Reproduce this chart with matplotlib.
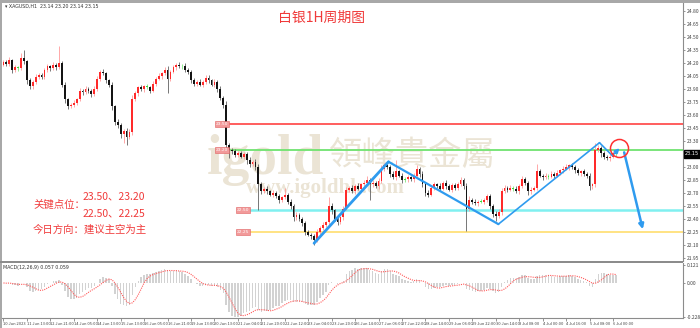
import numpy as np
import pandas as pd
import matplotlib
matplotlib.use("Agg")
import matplotlib.pyplot as plt
from matplotlib.patches import Rectangle
import matplotlib.transforms as mtransforms

plt.rcParams['font.family'] = ['Noto Sans CJK SC', 'DejaVu Sans']

# XAGUSD H1 chart (2h resolution)
first_open = 24.18
closes = [
    24.21, 24.19, 24.23, 24.12, 24.15, 24.14, 24.26, 24.22, 24.00, 23.93,
    23.98, 24.04, 24.06, 24.04, 24.12, 24.16, 24.14, 24.18, 24.15, 24.20,
    23.95, 23.78, 23.70, 23.72, 23.74, 23.78, 23.88, 23.86, 23.90, 23.88,
    23.84, 23.90, 24.02, 24.10, 24.08, 24.00, 23.95, 23.70, 23.52, 23.48,
    23.38, 23.42, 23.35, 23.40, 23.78, 23.85, 23.92, 23.90, 23.93, 23.92,
    23.88, 23.96, 24.02, 24.05, 24.08, 24.12, 24.02, 24.10, 24.15, 24.18,
    24.16, 24.17, 24.12, 24.10, 24.00, 23.96, 23.98, 23.95, 23.98, 24.03,
    24.00, 23.95, 23.98, 23.90, 23.80, 23.72, 23.25, 23.20, 23.18, 23.14,
    23.16, 23.12, 23.15, 23.08, 23.03, 23.06, 23.00, 22.80, 22.72, 22.75,
    22.72, 22.68, 22.70, 22.66, 22.62, 22.65, 22.68, 22.60, 22.55, 22.42,
    22.45, 22.40, 22.35, 22.25, 22.22, 22.20, 22.16, 22.25, 22.30, 22.33,
    22.36, 22.55, 22.50, 22.40, 22.36, 22.42, 22.52, 22.74, 22.76, 22.72,
    22.78, 22.75, 22.80, 22.82, 22.85, 22.80, 22.82, 22.78, 22.84, 22.98,
    23.02, 23.00, 22.92, 22.88, 22.95, 22.90, 22.85, 22.86, 22.88, 22.86,
    22.90, 22.98, 22.92, 22.80, 22.70, 22.68, 22.76, 22.80, 22.78, 22.75,
    22.82, 22.78, 22.74, 22.79, 22.76, 22.80, 22.85, 22.78, 22.52, 22.62,
    22.60, 22.58, 22.60, 22.60, 22.62, 22.66, 22.55, 22.46, 22.44, 22.48,
    22.72, 22.76, 22.74, 22.76, 22.75, 22.72, 22.78, 22.86, 22.82, 22.72,
    22.74, 22.76, 22.95, 22.90, 22.88, 22.90, 22.89, 22.92, 22.90, 22.93,
    22.96, 22.98, 23.00, 23.02, 23.00, 22.96, 22.93, 22.95, 22.92, 22.90,
    22.78, 22.80, 23.20, 23.22, 23.16, 23.12, 23.10, 23.12, 23.16, 23.15,
]
# wick lengths above / below the body, in cents
up_wick = [
    3, 2, 4, 2, 3, 2, 5, 9, 2, 3,
    2, 3, 2, 3, 2, 3, 2, 3, 2, 20,
    2, 3, 2, 2, 3, 2, 3, 2, 3, 2,
    2, 3, 3, 2, 3, 2, 2, 3, 2, 3,
    3, 2, 3, 4, 5, 3, 2, 3, 2, 3,
    2, 3, 2, 3, 2, 3, 4, 2, 3, 2,
    3, 2, 3, 2, 2, 3, 2, 3, 2, 3,
    3, 2, 3, 2, 3, 2, 4, 3, 2, 3,
    2, 3, 2, 2, 3, 2, 3, 4, 3, 2,
    3, 2, 3, 2, 3, 2, 8, 2, 3, 2,
    3, 2, 2, 3, 2, 2, 3, 3, 2, 3,
    2, 10, 3, 2, 3, 2, 3, 3, 2, 3,
    2, 3, 2, 3, 5, 2, 3, 2, 3, 4,
    3, 4, 2, 3, 13, 2, 3, 2, 3, 2,
    3, 4, 2, 3, 2, 3, 2, 3, 2, 3,
    2, 3, 2, 3, 2, 3, 3, 2, 3, 4,
    2, 3, 2, 3, 2, 3, 3, 2, 3, 3,
    4, 3, 2, 3, 2, 3, 2, 4, 3, 2,
    3, 2, 9, 3, 2, 3, 2, 3, 2, 3,
    2, 3, 3, 2, 3, 2, 3, 2, 3, 2,
    3, 2, 8, 3, 2, 3, 2, 3, 2, 2,
]
down_wick = [
    2, 3, 2, 4, 2, 3, 2, 3, 4, 3,
    3, 2, 3, 2, 3, 2, 3, 2, 3, 2,
    3, 4, 3, 2, 3, 2, 2, 3, 2, 3,
    3, 2, 2, 3, 2, 3, 3, 4, 3, 3,
    4, 10, 10, 3, 3, 2, 3, 2, 3, 2,
    3, 2, 3, 2, 3, 2, 17, 3, 2, 3,
    2, 3, 2, 3, 3, 2, 3, 2, 3, 2,
    3, 2, 3, 3, 3, 4, 5, 10, 3, 2,
    3, 2, 3, 4, 3, 2, 3, 30, 3, 2,
    3, 2, 3, 2, 3, 2, 2, 3, 3, 4,
    3, 2, 3, 3, 2, 3, 6, 3, 2, 3,
    2, 3, 4, 2, 3, 2, 3, 2, 3, 2,
    3, 2, 3, 2, 3, 18, 3, 2, 3, 2,
    3, 2, 3, 2, 3, 2, 3, 2, 3, 2,
    3, 2, 3, 3, 4, 3, 2, 3, 2, 3,
    2, 3, 2, 3, 2, 3, 2, 3, 26, 3,
    3, 2, 3, 2, 3, 2, 3, 4, 6, 3,
    3, 2, 3, 2, 3, 2, 3, 2, 3, 4,
    3, 2, 3, 2, 3, 2, 3, 2, 3, 2,
    2, 3, 2, 3, 2, 3, 2, 3, 2, 3,
    4, 3, 3, 3, 4, 3, 2, 3, 2, 2,
]

x_labels = ["10 Jun 2023", "11 Jun 13:00", "12 Jun 21:00", "14 Jun 05:00", "14 Jun 13:00",
            "15 Jun 13:00", "16 Jun 05:00", "16 Jun 21:00", "19 Jun 13:00", "20 Jun 13:00",
            "21 Jun 04:00", "21 Jun 20:00", "22 Jun 12:00", "23 Jun 04:00", "23 Jun 20:00",
            "26 Jun 14:00", "27 Jun 06:00", "27 Jun 22:00", "28 Jun 14:00", "29 Jun 06:00",
            "29 Jun 22:00", "30 Jun 14:00", "3 Jul 08:00", "4 Jul 00:00", "4 Jul 16:00",
            "5 Jul 08:00", "6 Jul 00:00"]

levels = [23.50, 23.20, 22.50, 22.25]
level_colors = ['#ff5050', '#6fe36f', '#80f0f0', '#ffe07a']
level_start = [77.3, 77.3, 84.3, 84.3]
level_tag = [74.6, 74.6, 81.7, 81.7]

zig_x = [106.0, 131.4, 168.9, 203.4, 207.8]
zig_y = [22.12, 23.06, 22.34, 23.28, 23.13]
zig_lw = [2.0, 1.6, 1.2, 1.2]

closes = np.array(closes)
opens = np.r_[first_open, closes[:-1]]
highs = np.maximum(opens, closes) + np.array(up_wick) / 100
lows = np.minimum(opens, closes) - np.array(down_wick) / 100
x = np.arange(len(closes))

W, H = 700, 328
fig = plt.figure(figsize=(7, 3.28), dpi=100, facecolor='white')

def fx(px):
    return px / W

def fy(py):
    return 1 - py / H

ax = fig.add_axes([fx(2), fy(261), fx(681), (261 - 3) / H])
ax2 = fig.add_axes([fx(2), fy(318), fx(681), (318 - 263) / H])

# watermark
wm = '#ebe4d5'
ax.text(fx(207), fy(174), 'igold', transform=fig.transFigure, fontsize=40,
        family='Liberation Serif', weight='bold', color=wm, ha='left', va='baseline', zorder=0)
ax.text(fx(412), fy(155), '領峰貴金屬', transform=fig.transFigure, fontsize=24,
        family=['Noto Sans CJK TC', 'DejaVu Sans'], color=wm, ha='center', va='center', zorder=0)
ax.text(fx(325), fy(188), 'www.igoldhk.com', transform=fig.transFigure, fontsize=15,
        family='Liberation Serif', weight='bold', color=wm, ha='center', va='center', zorder=0)

# candles
body_lo = np.minimum(opens, closes)
body_h = np.maximum(np.abs(closes - opens), 0.008)
bull = closes > opens + 0.01
bear = closes < opens - 0.01
body_col = np.where(bull, '#ff2a2a', np.where(bear, '#141414', '#3ddc3d'))
wick_col = np.where(bull, '#ff9a9a', np.where(bear, '#606060', '#7ee87e'))
ax.vlines(x, lows, highs, colors=wick_col, lw=0.6, zorder=3)
ax.bar(x, body_h, bottom=body_lo, width=0.62, color=body_col, lw=0, zorder=4)

# key levels
for lv, c, xs, xt in zip(levels, level_colors, level_start, level_tag):
    ax.plot([xs, 240], [lv, lv], color=c, lw=1.3 if c != '#80f0f0' else 1.8, zorder=2)
    ax.text(xt, lv, f'{lv:.2f}', fontsize=3.2, color='white', ha='center', va='center',
            family='DejaVu Sans', zorder=5,
            bbox=dict(boxstyle='square,pad=0.25', fc='#f29a9a', ec='#e06060', lw=0.4))

# zigzag forecast
for i in range(len(zig_x) - 1):
    ax.plot(zig_x[i:i + 2], zig_y[i:i + 2], color='#2f9bef', lw=zig_lw[i],
            solid_capstyle='round', zorder=6)
ax.annotate('', xy=(210.9, 23.24), xytext=(zig_x[-1], zig_y[-1]),
            arrowprops=dict(arrowstyle='-|>', color='#2f9bef', lw=1.4, mutation_scale=6), zorder=6)
ax.annotate('', xy=(218.4, 22.25), xytext=(211.6, 23.20),
            arrowprops=dict(arrowstyle='-|>', color='#2f9bef', lw=1.8, mutation_scale=7), zorder=6)
ax.plot(210.2, 23.22, 'o', ms=13, mfc='none', mec='#ff3030', mew=1.1, zorder=7)

ax.set_xlim(-0.5, 231.9)
ax.set_ylim(21.915, 24.892)
ax.yaxis.tick_right()
ax.set_yticks(np.round(np.arange(21.95, 24.81, 0.15), 2))
ax.yaxis.set_major_formatter(plt.FormatStrFormatter('%.2f'))
ax.tick_params(axis='y', labelsize=3.6, length=1.5, width=0.4, pad=1, colors='#444444')
ax.tick_params(axis='x', bottom=False, labelbottom=False)
for s in ['left', 'top', 'bottom']:
    ax.spines[s].set_visible(False)
ax.spines['right'].set_color('#8c8c8c')
ax.spines['right'].set_linewidth(0.8)

# current price tag
tr = mtransforms.blended_transform_factory(ax.transAxes, ax.transData)
ax.text(1.003, closes[-1], f'{closes[-1]:.2f}', transform=tr, fontsize=3.6, color='white',
        ha='left', va='center', family='DejaVu Sans', zorder=8,
        bbox=dict(boxstyle='square,pad=0.3', fc='black', ec='black'))

# MACD
s = pd.Series(closes)
macd = s.ewm(span=6, adjust=False).mean() - s.ewm(span=13, adjust=False).mean()
signal = macd.rolling(5, min_periods=1).mean()
ax2.bar(x, macd, width=0.5, color='#d2d2d2', lw=0)
ax2.plot(x, signal, color='#ff5a5a', lw=0.8, ls=(0, (1, 1)))
ax2.set_xlim(-0.5, 231.9)
ax2.set_ylim(-0.235, 0.134)
ax2.yaxis.tick_right()
ax2.set_yticks([0.121, 0.0, -0.228])
ax2.set_yticklabels(['0.121', '0.00', '-0.228'])
ax2.tick_params(axis='y', labelsize=3.6, length=1.5, width=0.4, pad=1, colors='#444444')
ax2.set_xticks(np.arange(len(x_labels)) * 8)
ax2.set_xticklabels(x_labels, ha='left')
ax2.tick_params(axis='x', labelsize=2.9, length=2, width=0.4, pad=1, colors='#444444')
for s_ in ['left', 'top']:
    ax2.spines[s_].set_visible(False)
for s_ in ['right', 'bottom']:
    ax2.spines[s_].set_color('#8c8c8c')
    ax2.spines[s_].set_linewidth(0.8)
ax2.text(0.002, 0.97, 'MACD(12,26,9) 0.057 0.059', transform=ax2.transAxes, fontsize=3.4,
         va='top', ha='left', family='DejaVu Sans', color='#333333')

# window frame
fig.patches.append(Rectangle((0, 0), fx(2), 1, transform=fig.transFigure, fc='#a8a8a8', ec='none'))
fig.patches.append(Rectangle((0, fy(3)), 1, 3 / H, transform=fig.transFigure, fc='#a8a8a8', ec='none'))
fig.patches.append(Rectangle((0, fy(263)), fx(683), 2 / H, transform=fig.transFigure,
                             fc='#8c8c8c', ec='none'))

fig.text(fx(5), fy(6.5), '▾ XAGUSD,H1  23.14 23.20 23.14 23.15', fontsize=3.4,
         family='DejaVu Sans', color='#333333', va='center')

# title and notes
red = '#f03a3a'
fig.text(fx(322), fy(18), '白银1H周期图', color=red, fontsize=10, ha='center', va='center')
fig.text(fx(33), fy(205), '关键点位：', color=red, fontsize=7.5, va='center')
fig.text(fx(83), fy(196), '23.50、23.20', color=red, fontsize=7.5, va='center')
fig.text(fx(83), fy(213), '22.50、22.25', color=red, fontsize=7.5, va='center')
fig.text(fx(33), fy(230), '今日方向：建议主空为主', color=red, fontsize=7.5, va='center')

fig.savefig('out.png', dpi=100, facecolor='white')
